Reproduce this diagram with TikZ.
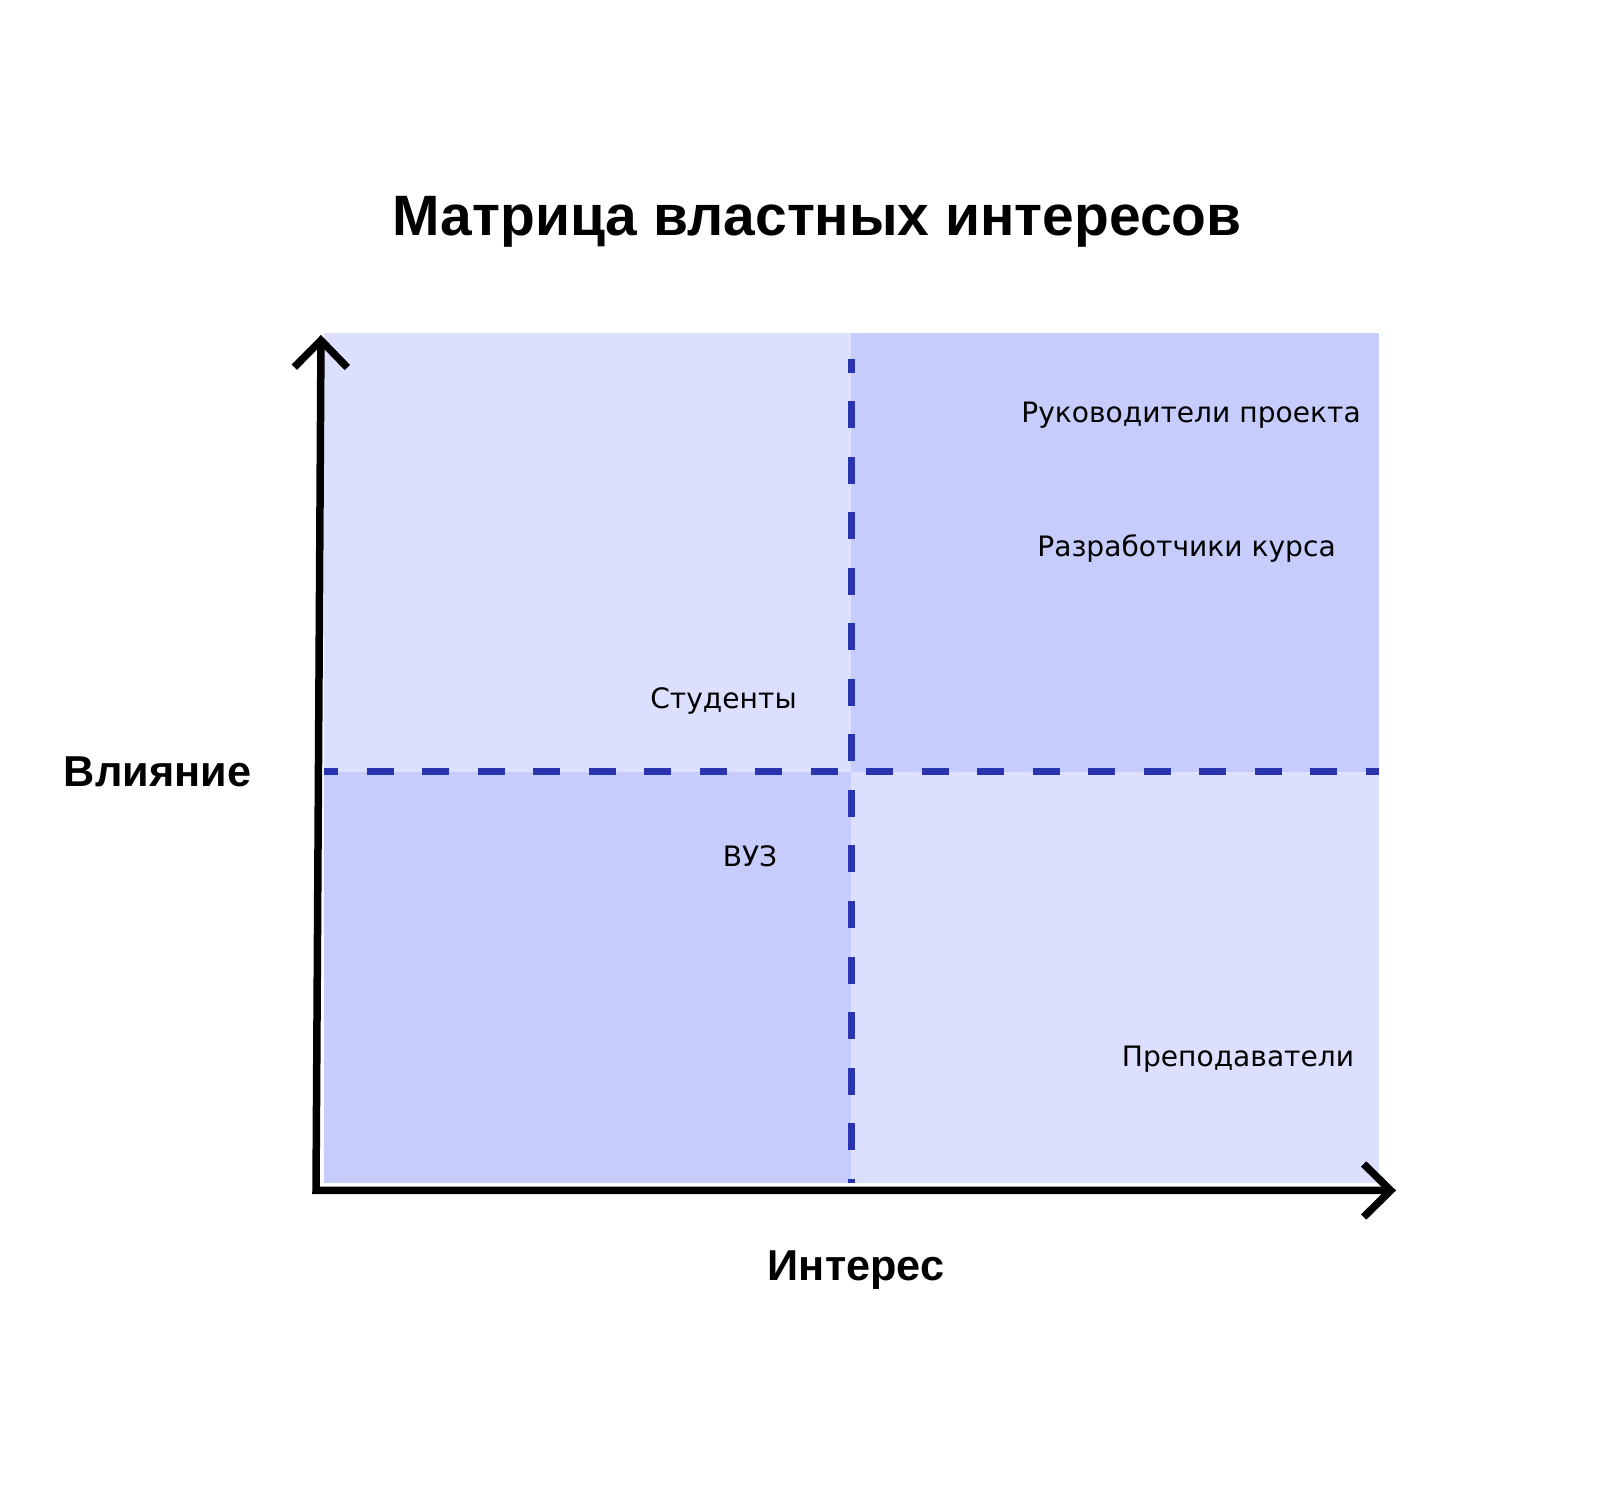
\documentclass[tikz,border=0pt]{standalone}
\usepackage{fontspec}
\usepackage{xcolor}
\usepackage{tikz}
\usetikzlibrary{arrows.meta,positioning}
\newfontfamily\labfont{DejaVu Sans}
\newfontfamily\headfont{Liberation Sans}
\definecolor{qlight}{HTML}{DCDFFE}
\definecolor{qdark}{HTML}{C6CDFC}
\definecolor{dashblue}{HTML}{2B34AF}

\begin{document}
\begin{tikzpicture}[font=\labfont\fontsize{8pt}{9.5pt}\selectfont,
  axis/.style={line width=0.075cm,{Straight Barb[length=0.27cm,width=0.53cm]}-{Straight Barb[length=0.27cm,width=0.53cm]}},
  split/.style={dashblue,line width=0.07cm,dash pattern=on 0.27cm off 0.285cm,dash phase=0.13cm},
  who/.style={anchor=base,inner sep=0pt},
  axlabel/.style={anchor=base,inner sep=0pt,font=\headfont\bfseries\fontsize{12.3pt}{14pt}\selectfont}]
  \useasboundingbox (0,0) rectangle (16,14.9);
  \def\xl{3.24} \def\xm{8.51} \def\xr{13.79}
  \def\yb{3.07} \def\ym{7.18} \def\yt{11.57}
  % quadrants
  \fill[qlight] (\xl,\ym) rectangle (\xm,\yt);
  \fill[qdark] (\xm,\ym) rectangle (\xr,\yt);
  \fill[qdark] (\xl,\yb) rectangle (\xm,\ym);
  \fill[qlight] (\xm,\yb) rectangle (\xr,\ym);
  % split lines
  \coordinate (hl) at (\xl,\ym); \coordinate (hr) at (\xr,\ym);
  \coordinate (vt) at (\xm,11.31); \coordinate (vb) at (\xm,\yb);
  \draw[split] (hl) -- (hr);
  \draw[split] (vt) -- (vb);
  % axis
  \coordinate (O) at (3.16,2.995);
  \coordinate (ytip) at (3.21,11.55);
  \coordinate (xtip) at (13.96,2.995);
  \draw[axis] (ytip) -- (O) -- (xtip);
  % title and axis names
  \node[axlabel,font=\headfont\bfseries\fontsize{16.2pt}{19pt}\selectfont] (title) at (8.17,12.54) {Матрица властных интересов};
  \node[axlabel] (infl) at (1.575,7.03) {Влияние};
  \node[axlabel] (intr) at (8.56,2.09) {Интерес};
  % stakeholders
  \node[who] (lead) at (11.91,10.67) {Руководители проекта};
  \node[who] (dev) at (11.865,9.33) {Разработчики курса};
  \node[who] (stud) at (7.235,7.81) {Студенты};
  \node[who] (uni) at (7.50,6.23) {ВУЗ};
  \node[who] (teach) at (12.38,4.23) {Преподаватели};
\end{tikzpicture}
\end{document}
